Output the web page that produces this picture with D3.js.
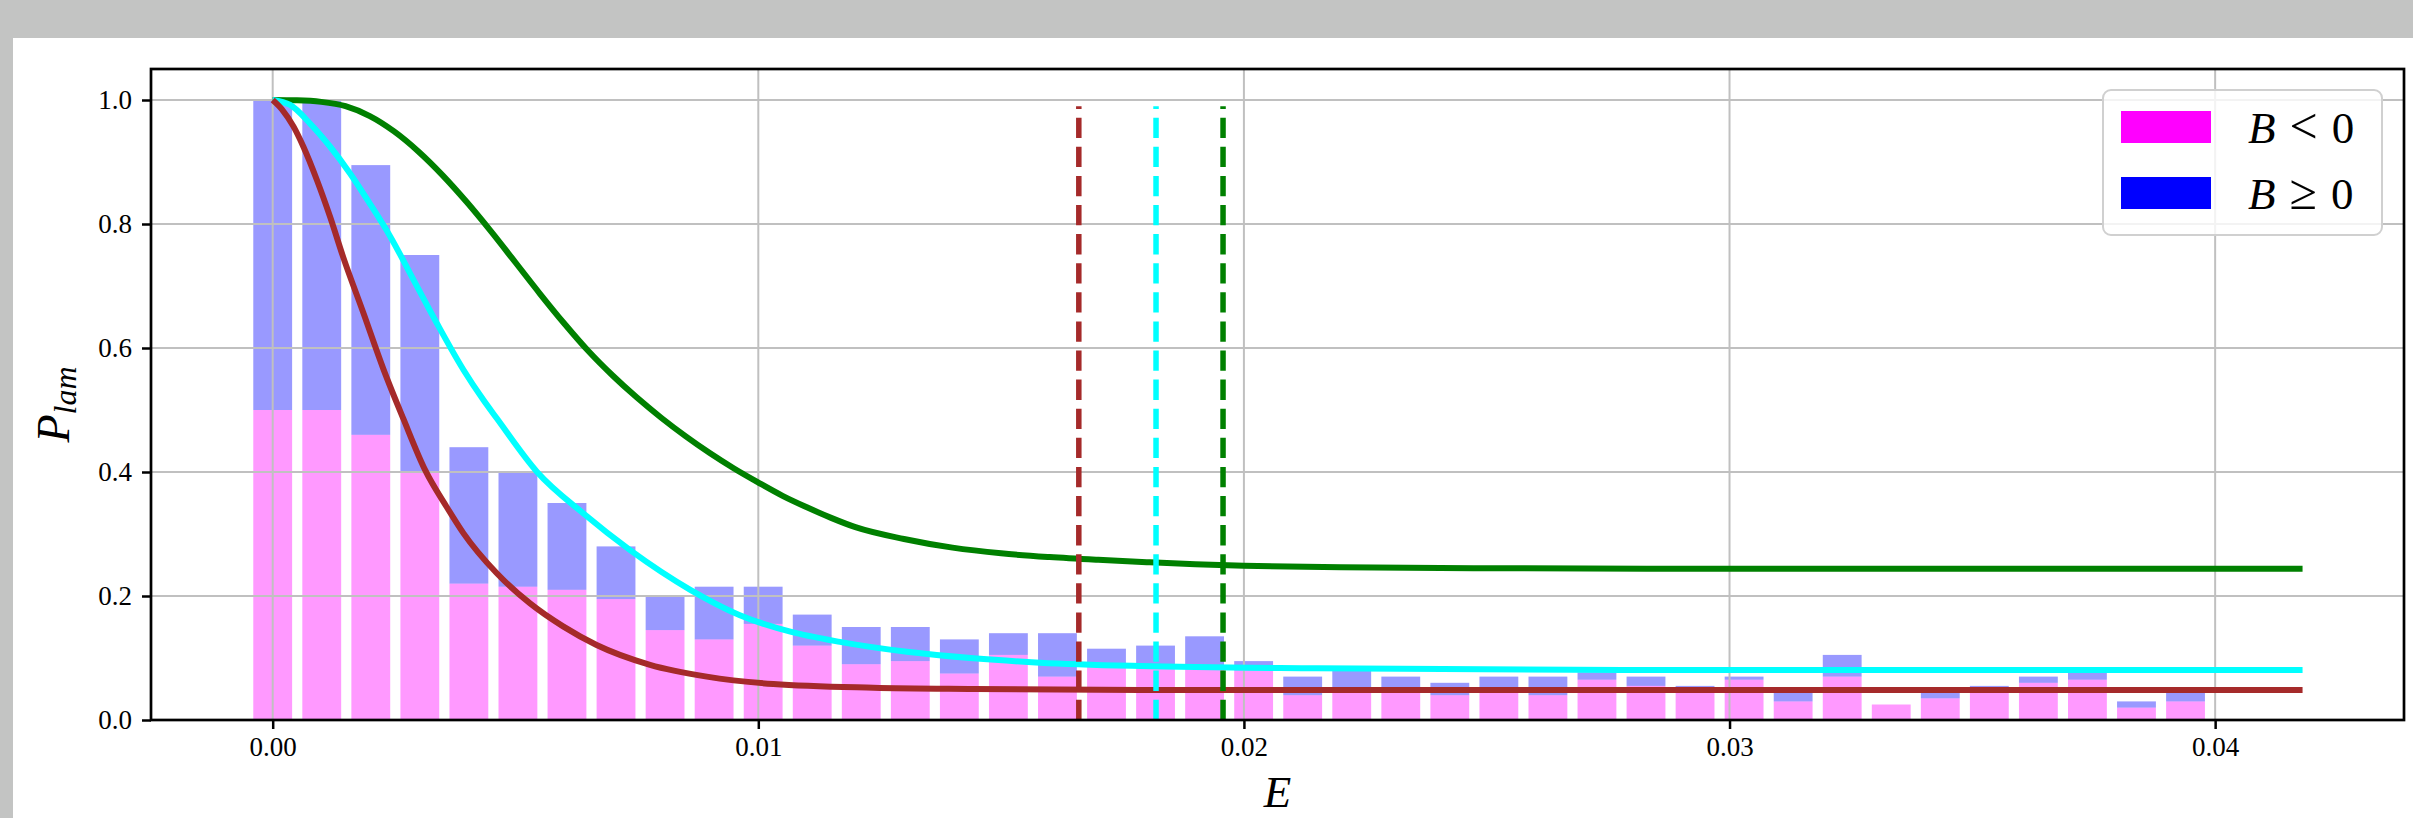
<!DOCTYPE html>
<html>
<head>
<meta charset="utf-8">
<script src="https://cdn.jsdelivr.net/npm/d3@7/dist/d3.min.js"></script>
<style>
  html, body { margin: 0; padding: 0; background: #c3c4c3; }
  svg { display: block; }
  text { font-family: "Liberation Serif", "DejaVu Serif", serif; fill: #000; }
</style>
</head>
<body>
<svg id="chart" width="2413" height="818"></svg>
<script>
// Energy bin centres of the histogram
const eBins = [0, 0.00101, 0.00202, 0.00303, 0.00404, 0.00505, 0.00606, 0.00707, 0.00808, 0.00909,
  0.0101, 0.01111, 0.01212, 0.01313, 0.01414, 0.01515, 0.01616, 0.01717, 0.01818, 0.01919,
  0.0202, 0.02121, 0.02222, 0.02323, 0.02424, 0.02525, 0.02626, 0.02727, 0.02828, 0.02929,
  0.0303, 0.03131, 0.03232, 0.03333, 0.03434, 0.03535, 0.03636, 0.03737, 0.03838, 0.03939];

// Laminar probability contribution with B < 0 (bottom of stack)
const pNeg = [0.50, 0.50, 0.46, 0.40, 0.22, 0.215, 0.21, 0.195, 0.145, 0.13,
  0.155, 0.12, 0.09, 0.095, 0.075, 0.105, 0.07, 0.09, 0.085, 0.085,
  0.08, 0.04, 0.05, 0.05, 0.04, 0.05, 0.04, 0.065, 0.055, 0.052,
  0.065, 0.03, 0.07, 0.025, 0.035, 0.05, 0.06, 0.065, 0.02, 0.03];

// Laminar probability contribution with B >= 0 (stacked on top)
const pPos = [0.50, 0.50, 0.435, 0.35, 0.22, 0.185, 0.14, 0.085, 0.055, 0.085,
  0.06, 0.05, 0.06, 0.055, 0.055, 0.035, 0.07, 0.025, 0.035, 0.05,
  0.015, 0.03, 0.03, 0.02, 0.02, 0.02, 0.03, 0.012, 0.015, 0.003,
  0.005, 0.018, 0.035, 0, 0.01, 0.005, 0.01, 0.012, 0.01, 0.018];

// Model curves P_lam(E)
const curveBrown = [[0, 1.0], [0.00019, 0.985], [0.00043, 0.957], [0.00063, 0.925], [0.00091, 0.871],
  [0.00118, 0.812], [0.00145, 0.747], [0.00187, 0.656], [0.00228, 0.566], [0.00269, 0.486],
  [0.00314, 0.403], [0.00358, 0.344], [0.00393, 0.301], [0.00461, 0.237], [0.0053, 0.188],
  [0.00598, 0.151], [0.00667, 0.121], [0.00777, 0.089], [0.00894, 0.07], [0.01031, 0.058],
  [0.01237, 0.052], [0.01443, 0.05], [0.01786, 0.0485], [0.025, 0.0484], [0.0418, 0.0484]];

const curveCyan = [[0, 1.0], [0.00036, 0.992], [0.00077, 0.962], [0.00118, 0.925], [0.00159, 0.882],
  [0.002, 0.833], [0.00242, 0.78], [0.0029, 0.71], [0.00338, 0.64], [0.00393, 0.5645],
  [0.00434, 0.516], [0.00461, 0.487], [0.00544, 0.4005], [0.0064, 0.333], [0.00736, 0.274],
  [0.0086, 0.21], [0.00962, 0.169], [0.01066, 0.1425], [0.01168, 0.126], [0.01306, 0.11],
  [0.01443, 0.0995], [0.0158, 0.0925], [0.01786, 0.087], [0.0215, 0.0833], [0.0288, 0.0806],
  [0.0418, 0.0805]];

const curveGreen = [[0, 1.0], [0.0005, 0.9995], [0.001, 0.997], [0.0015, 0.99], [0.002, 0.974],
  [0.0025, 0.9493], [0.003, 0.917], [0.0035, 0.8785], [0.004, 0.835], [0.0045, 0.7877],
  [0.005, 0.7379], [0.0055, 0.6879], [0.006, 0.6399], [0.0065, 0.5951], [0.007, 0.5556],
  [0.0075, 0.52], [0.008, 0.4875], [0.0085, 0.4578], [0.009, 0.4305], [0.0095, 0.4056],
  [0.01, 0.383], [0.0105, 0.3615], [0.011, 0.343], [0.0115, 0.326], [0.012, 0.311],
  [0.013, 0.292], [0.014, 0.278], [0.015, 0.2688], [0.016, 0.2628], [0.017, 0.2583],
  [0.018, 0.2545], [0.019, 0.2512], [0.02, 0.2488], [0.022, 0.2462], [0.025, 0.2448],
  [0.03, 0.244], [0.0418, 0.244]];

// Threshold energies (dashed markers)
const thresholds = [
  { e: 0.0166, color: "#a52a2a" },
  { e: 0.01819, color: "#00ffff" },
  { e: 0.01957, color: "#008000" }
];

const xTicks = [0, 0.01, 0.02, 0.03, 0.04];
const yTicks = [0, 0.2, 0.4, 0.6, 0.8, 1.0];
const legendItems = [
  { color: "#ff00ff", rel: "<" },
  { color: "#0000ff", rel: "\u2265" }
];

const svg = d3.select("#chart");
const W = 2413, H = 818;

// Figure canvas
svg.append("rect").attr("width", W).attr("height", H).attr("fill", "#c3c4c3");
svg.append("rect").attr("x", 13).attr("y", 38).attr("width", W - 13).attr("height", H - 38).attr("fill", "#ffffff");

const plot = { left: 151, right: 2404, top: 69, bottom: 720 };
const x = d3.scaleLinear().domain([-0.002506, 0.043889]).range([plot.left, plot.right]);
const y = d3.scaleLinear().domain([0, 1.05]).range([plot.bottom, plot.top]);

const barW = x(0.0008) - x(0);

// Stacked bars
const bars = svg.append("g");
bars.selectAll("rect.neg").data(eBins).join("rect")
  .attr("x", (d) => x(d) - barW / 2)
  .attr("width", barW)
  .attr("y", (d, i) => y(pNeg[i]))
  .attr("height", (d, i) => y(0) - y(pNeg[i]))
  .attr("fill", "#ff00ff").attr("fill-opacity", 0.4);
bars.selectAll("rect.pos").data(eBins).join("rect")
  .attr("x", (d) => x(d) - barW / 2)
  .attr("width", barW)
  .attr("y", (d, i) => y(pNeg[i] + pPos[i]))
  .attr("height", (d, i) => y(pNeg[i]) - y(pNeg[i] + pPos[i]))
  .attr("fill", "#0000ff").attr("fill-opacity", 0.4);

// Grid
const grid = svg.append("g").attr("stroke", "#c0c0c0").attr("stroke-width", 2);
grid.selectAll("line.gx").data(xTicks).join("line")
  .attr("x1", (d) => x(d)).attr("x2", (d) => x(d))
  .attr("y1", plot.top).attr("y2", plot.bottom);
grid.selectAll("line.gy").data(yTicks).join("line")
  .attr("x1", plot.left).attr("x2", plot.right)
  .attr("y1", (d) => y(d)).attr("y2", (d) => y(d));

// Model curves
const line = d3.line().x((d) => x(d[0])).y((d) => y(d[1])).curve(d3.curveMonotoneX);
[[curveGreen, "#008000"], [curveCyan, "#00ffff"], [curveBrown, "#a52a2a"]].forEach(([data, color]) => {
  svg.append("path").datum(data).attr("d", line)
    .attr("fill", "none").attr("stroke", color).attr("stroke-width", 6)
    .attr("stroke-linejoin", "round").attr("stroke-linecap", "butt");
});

// Dashed threshold markers
svg.append("g").selectAll("line").data(thresholds).join("line")
  .attr("x1", (d) => x(d.e)).attr("x2", (d) => x(d.e))
  .attr("y1", y(0)).attr("y2", y(0.99))
  .attr("stroke", (d) => d.color).attr("stroke-width", 5.5)
  .attr("stroke-dasharray", "20.3 8.8");

// Axes
const xAxis = d3.axisBottom(x).tickValues(xTicks).tickFormat(d3.format(".2f")).tickSize(9).tickPadding(8);
const yAxis = d3.axisLeft(y).tickValues(yTicks).tickFormat(d3.format(".1f")).tickSize(9).tickPadding(10);

const gx = svg.append("g").attr("transform", `translate(0,${plot.bottom})`).call(xAxis);
const gy = svg.append("g").attr("transform", `translate(${plot.left},0)`).call(yAxis);
[gx, gy].forEach((g) => {
  g.select(".domain").remove();
  g.selectAll(".tick line").attr("stroke", "#000").attr("stroke-width", 2.5);
  g.selectAll(".tick text").attr("font-size", 27).attr("font-family", "Liberation Serif, serif").attr("fill", "#000");
});

// Frame
svg.append("rect")
  .attr("x", plot.left).attr("y", plot.top)
  .attr("width", plot.right - plot.left).attr("height", plot.bottom - plot.top)
  .attr("fill", "none").attr("stroke", "#000").attr("stroke-width", 2.7);

// Axis labels
svg.append("text").attr("x", (plot.left + plot.right) / 2).attr("y", 807)
  .attr("text-anchor", "middle").attr("font-size", 45).attr("font-style", "italic").text("E");

const yl = svg.append("text")
  .attr("transform", `translate(69,${(plot.top + plot.bottom) / 2 + 10}) rotate(-90)`)
  .attr("text-anchor", "middle").attr("font-size", 46);
yl.append("tspan").attr("font-style", "italic").text("P");
yl.append("tspan").attr("font-style", "italic").attr("font-size", 32).attr("dy", 7).text("lam");

// Legend
const lg = svg.append("g");
lg.append("rect").attr("x", 2103).attr("y", 90).attr("width", 279).attr("height", 145)
  .attr("rx", 8).attr("fill", "#ffffff").attr("fill-opacity", 0.8)
  .attr("stroke", "#d0d0d0").attr("stroke-width", 2);
legendItems.forEach((it, i) => {
  const top = 111 + i * 66;
  lg.append("rect").attr("x", 2121).attr("y", top).attr("width", 90).attr("height", 32)
    .attr("fill", it.color);
  const t = lg.append("text").attr("x", 2248).attr("y", top + 32).attr("font-size", 45);
  t.append("tspan").attr("font-style", "italic").text("B");
  t.append("tspan").attr("dx", 14).attr("font-size", 50).text(it.rel);
  t.append("tspan").attr("dx", 14).text("0");
});
</script>
</body>
</html>
